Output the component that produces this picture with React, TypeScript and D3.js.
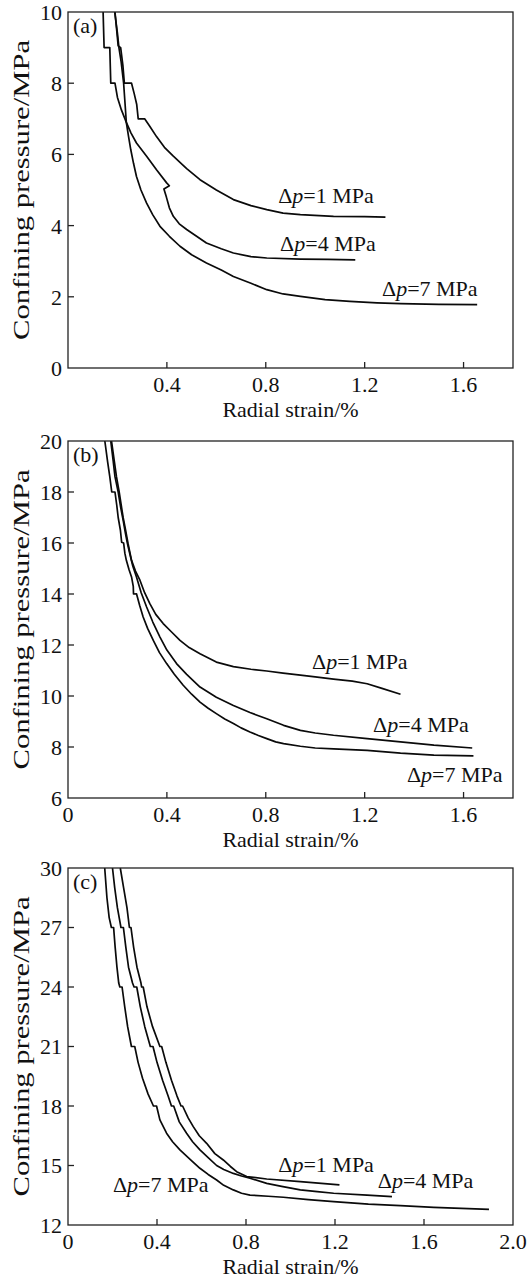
import React from 'react';
import * as d3 from 'd3';

// Panel (a): confining pressure 10 MPa
const aTicksX = [0.4, 0.8, 1.2, 1.6];
const aTicksY = [0, 2, 4, 6, 8, 10];
const aDp1 = [
  [0.19, 10], [0.203, 9.05], [0.213, 9.0], [0.222, 8.5], [0.228, 8.0], [0.257, 8.0], [0.268, 7.7],
  [0.278, 7.4], [0.284, 7.0], [0.31, 7.0], [0.33, 6.8], [0.358, 6.5], [0.39, 6.2], [0.426, 5.95],
  [0.48, 5.6], [0.534, 5.29], [0.6, 5.0], [0.669, 4.73], [0.74, 4.56], [0.804, 4.45], [0.87, 4.35],
  [0.94, 4.31], [1.074, 4.26], [1.2, 4.25], [1.284, 4.24],
];
const aDp4 = [
  [0.142, 10], [0.146, 9.0], [0.169, 9.0], [0.173, 8.0], [0.19, 8.0], [0.2, 7.6], [0.216, 7.25],
  [0.236, 6.9], [0.255, 6.6], [0.277, 6.32], [0.318, 5.95], [0.358, 5.57], [0.399, 5.2], [0.41, 5.12],
  [0.388, 5.03], [0.398, 4.8], [0.41, 4.5], [0.426, 4.26], [0.45, 4.05], [0.48, 3.89], [0.52, 3.7],
  [0.56, 3.51], [0.62, 3.35], [0.669, 3.23], [0.74, 3.13], [0.804, 3.09], [0.94, 3.06], [1.05, 3.05],
  [1.162, 3.04],
];
const aDp7 = [
  [0.189, 10], [0.2, 9.4], [0.206, 9.0], [0.215, 8.6], [0.225, 8.0], [0.231, 7.4], [0.236, 6.89],
  [0.245, 6.5], [0.254, 6.13], [0.265, 5.75], [0.277, 5.38], [0.295, 5.0], [0.318, 4.63], [0.343, 4.3],
  [0.372, 3.98], [0.41, 3.7], [0.453, 3.42], [0.5, 3.18], [0.56, 2.95], [0.62, 2.75], [0.669, 2.57],
  [0.74, 2.38], [0.804, 2.2], [0.87, 2.08], [0.94, 2.01], [1.04, 1.92], [1.14, 1.87], [1.25, 1.83],
  [1.345, 1.81], [1.5, 1.79], [1.655, 1.78],
];

// Panel (b): confining pressure 20 MPa
const bTicksX = [0, 0.4, 0.8, 1.2, 1.6];
const bTicksY = [6, 8, 10, 12, 14, 16, 18, 20];
const bDp1 = [
  [0.176, 20], [0.186, 19.3], [0.196, 18.6], [0.207, 18.0], [0.215, 17.5], [0.223, 17.0], [0.233, 16.5],
  [0.243, 15.97], [0.257, 15.32], [0.273, 14.9], [0.291, 14.54], [0.31, 14.05], [0.331, 13.62],
  [0.355, 13.2], [0.385, 12.84], [0.42, 12.5], [0.453, 12.18], [0.49, 11.9], [0.534, 11.66], [0.6, 11.33],
  [0.669, 11.15], [0.74, 11.05], [0.804, 10.98], [0.87, 10.9], [0.94, 10.82], [1.0, 10.75],
  [1.074, 10.66], [1.15, 10.58], [1.21, 10.48], [1.27, 10.3], [1.345, 10.07],
];
const bDp4 = [
  [0.173, 20], [0.183, 19.2], [0.19, 18.6], [0.203, 18.0], [0.213, 17.4], [0.223, 16.9], [0.232, 16.4],
  [0.24, 16.0], [0.25, 15.58], [0.262, 15.1], [0.277, 14.67], [0.296, 14.05], [0.318, 13.49],
  [0.343, 12.9], [0.372, 12.31], [0.4, 11.8], [0.439, 11.27], [0.48, 10.85], [0.534, 10.35], [0.6, 9.95],
  [0.669, 9.63], [0.736, 9.35], [0.804, 9.11], [0.872, 8.85], [0.94, 8.65], [1.0, 8.55], [1.074, 8.46],
  [1.21, 8.33], [1.345, 8.2], [1.48, 8.07], [1.635, 7.96],
];
const bDp7 = [
  [0.149, 20], [0.16, 19.2], [0.169, 18.6], [0.177, 18.0], [0.19, 18.0], [0.197, 17.5], [0.203, 17.0],
  [0.212, 16.5], [0.217, 16.03], [0.225, 16.0], [0.23, 15.6], [0.236, 15.32], [0.247, 14.95],
  [0.257, 14.67], [0.264, 14.3], [0.265, 14.0], [0.277, 14.01], [0.29, 13.55], [0.304, 13.1],
  [0.322, 12.65], [0.345, 12.18], [0.37, 11.7], [0.399, 11.27], [0.43, 10.85], [0.466, 10.42],
  [0.5, 10.07], [0.534, 9.76], [0.567, 9.52], [0.6, 9.31], [0.634, 9.1], [0.669, 8.92], [0.7, 8.75],
  [0.736, 8.59], [0.77, 8.45], [0.804, 8.33], [0.84, 8.2], [0.872, 8.13], [0.94, 8.03], [1.0, 7.96],
  [1.074, 7.93], [1.21, 7.87], [1.345, 7.76], [1.48, 7.68], [1.64, 7.65],
];

// Panel (c): confining pressure 30 MPa
const cTicksX = [0, 0.4, 0.8, 1.2, 1.6, 2.0];
const cTicksY = [12, 15, 18, 21, 24, 27, 30];
const cDp1 = [
  [0.235, 30], [0.25, 29], [0.265, 28], [0.276, 27.0], [0.283, 27.0], [0.295, 26], [0.31, 25],
  [0.328, 24.2], [0.331, 24.0], [0.338, 24.0], [0.355, 23], [0.38, 22], [0.413, 21.0], [0.421, 21.0],
  [0.44, 20.2], [0.465, 19.3], [0.49, 18.5], [0.508, 18.0], [0.515, 18.0], [0.54, 17.4], [0.563, 16.96],
  [0.59, 16.5], [0.623, 16.12], [0.66, 15.6], [0.698, 15.28], [0.73, 14.95], [0.758, 14.69],
  [0.803, 14.44], [0.893, 14.32], [1.044, 14.19], [1.22, 14.02],
];
const cDp4 = [
  [0.2, 30], [0.21, 29], [0.222, 28], [0.238, 27.0], [0.249, 27.0], [0.26, 26], [0.272, 25],
  [0.29, 24.2], [0.297, 24.0], [0.309, 24.0], [0.325, 23], [0.345, 22], [0.37, 21.0], [0.382, 21.0],
  [0.4, 20.2], [0.425, 19.3], [0.45, 18.5], [0.465, 18.0], [0.475, 18.0], [0.5, 17.2], [0.533, 16.63],
  [0.56, 16.2], [0.593, 15.79], [0.63, 15.4], [0.668, 15.0], [0.7, 14.8], [0.743, 14.6], [0.78, 14.47],
  [0.818, 14.36], [0.893, 14.1], [0.96, 13.95], [1.044, 13.77], [1.12, 13.68], [1.194, 13.6],
  [1.344, 13.51], [1.456, 13.43],
];
const cDp7 = [
  [0.165, 30], [0.175, 28.5], [0.185, 27.5], [0.195, 27.0], [0.205, 27.0], [0.212, 26], [0.22, 25],
  [0.228, 24.2], [0.233, 24.0], [0.243, 24.0], [0.255, 23], [0.268, 22], [0.285, 21.0], [0.3, 21.0],
  [0.315, 20.2], [0.335, 19.4], [0.36, 18.6], [0.384, 18.0], [0.398, 18.0], [0.413, 17.3],
  [0.443, 16.63], [0.47, 16.2], [0.503, 15.79], [0.55, 15.3], [0.593, 14.86], [0.63, 14.55],
  [0.668, 14.27], [0.7, 14.0], [0.743, 13.77], [0.78, 13.6], [0.818, 13.51], [0.9, 13.45],
  [0.968, 13.4], [1.08, 13.28], [1.194, 13.18], [1.35, 13.05], [1.494, 12.98], [1.644, 12.89],
  [1.892, 12.79],
];

const seriesNames = ['=1 MPa', '=4 MPa', '=7 MPa'];

const FONT = "'Liberation Serif', 'Times New Roman', Times, serif";
const LEFT = 68;
const RIGHT = 513;

const panels = [
  {
    tag: '(a)', top: 12, height: 356, xMax: 1.8, xTicks: aTicksX, yTicks: aTicksY,
    series: [aDp1, aDp4, aDp7],
    labelAt: [[0.85, 4.63], [0.858, 3.29], [1.27, 2.02]],
  },
  {
    tag: '(b)', top: 441, height: 357, xMax: 1.8, xTicks: bTicksX, yTicks: bTicksY,
    series: [bDp1, bDp4, bDp7],
    labelAt: [[0.987, 11.06], [1.234, 8.59], [1.371, 6.63]],
  },
  {
    tag: '(c)', top: 868, height: 357, xMax: 2.0, xTicks: cTicksX, yTicks: cTicksY,
    series: [cDp1, cDp4, cDp7],
    labelAt: [[0.945, 14.67], [1.392, 13.87], [0.202, 13.66]],
  },
];

function Panel({ p }: { p: any }) {
  const bottom = p.top + p.height;
  const x = d3.scaleLinear().domain([0, p.xMax]).range([LEFT, RIGHT]);
  const yExt = d3.extent(p.yTicks) as [number, number];
  const y = d3.scaleLinear().domain(yExt).range([bottom, p.top]);
  const line = d3.line<number[]>().x(d => x(d[0])).y(d => y(d[1]));
  const tick = 6;

  return (
    <g style={{ fontFamily: FONT }} fill="#111">
      {p.series.map((s: number[][], i: number) => (
        <path key={i} d={line(s) || ''} fill="none" stroke="#0a0a0a" strokeWidth={1.7} strokeLinejoin="round" />
      ))}

      <rect x={LEFT} y={p.top} width={RIGHT - LEFT} height={p.height} fill="none" stroke="#222" strokeWidth={1.3} />

      {p.yTicks.map((t: number) => (
        <g key={'y' + t}>
          {t !== yExt[0] && t !== yExt[1] && (
            <line x1={LEFT} x2={LEFT + tick} y1={y(t)} y2={y(t)} stroke="#222" strokeWidth={1.3} />
          )}
          <text x={62} y={y(t)} dy="0.36em" textAnchor="end" fontSize={22}>{t}</text>
        </g>
      ))}

      {p.xTicks.map((t: number) => (
        <g key={'x' + t}>
          {t !== 0 && t !== p.xMax && (
            <line x1={x(t)} x2={x(t)} y1={bottom} y2={bottom - tick} stroke="#222" strokeWidth={1.3} />
          )}
          <text x={x(t)} y={bottom + 24} textAnchor="middle" fontSize={22}>{t === 0 ? '0' : t.toFixed(1)}</text>
        </g>
      ))}

      <text x={LEFT + 5} y={p.top + 21} fontSize={22}>{p.tag}</text>

      {p.labelAt.map((pos: number[], i: number) => (
        <text key={'l' + i} x={x(pos[0])} y={y(pos[1])} fontSize={22}>
          <tspan>Δ</tspan>
          <tspan fontStyle="italic">p</tspan>
          <tspan>{seriesNames[i]}</tspan>
        </text>
      ))}

      <text x={(LEFT + RIGHT) / 2} y={bottom + 49} textAnchor="middle" fontSize={22}>Radial strain/%</text>
      <text
        transform={`translate(29, ${p.top + p.height / 2}) rotate(-90)`}
        textAnchor="middle"
        fontSize={23}
        textLength={300}
        lengthAdjust="spacingAndGlyphs"
      >
        Confining pressure/MPa
      </text>
    </g>
  );
}

export default function App() {
  return (
    <svg
      width={532}
      height={1280}
      style={{ position: 'absolute', left: 0, top: 0, background: '#fff' }}
    >
      <rect width={532} height={1280} fill="#fff" />
      {panels.map(p => <Panel key={p.tag} p={p} />)}
    </svg>
  );
}
